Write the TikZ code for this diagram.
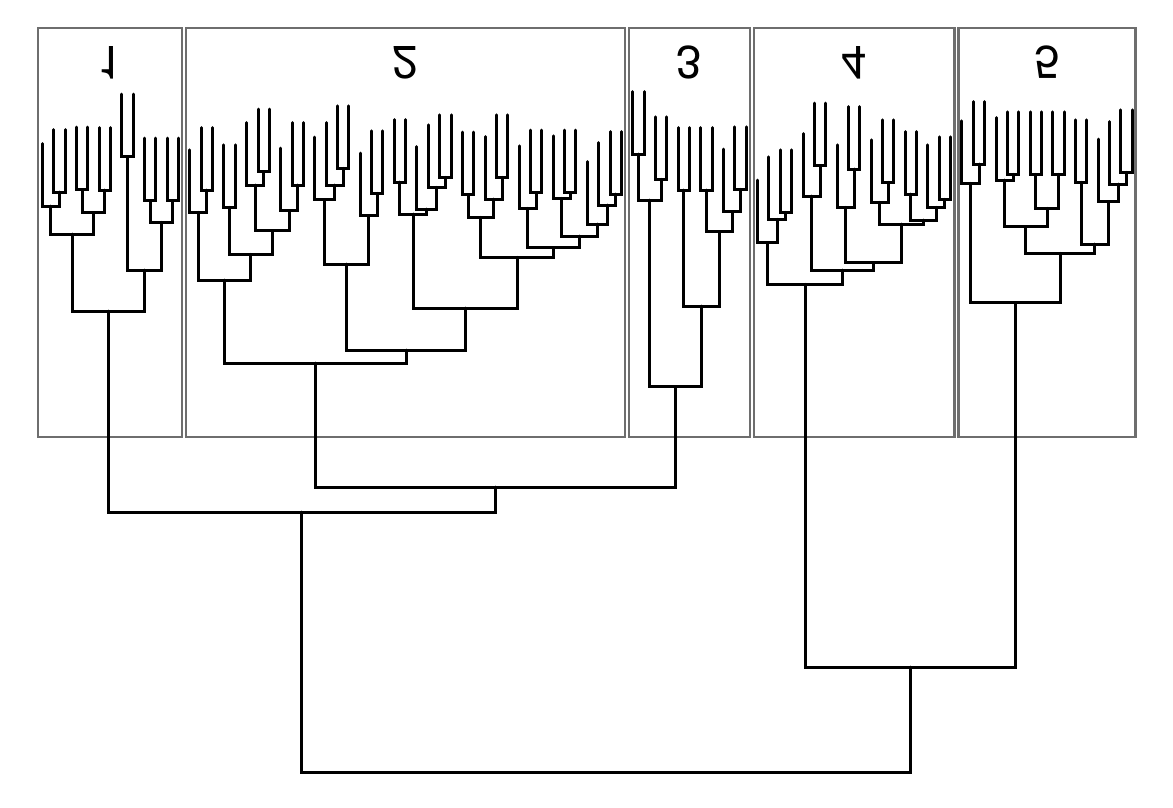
\documentclass[tikz,border=0pt]{standalone}
\usepackage{fontspec}
\setmainfont{TeX Gyre Heros}
\usetikzlibrary{calc}
\definecolor{boxgray}{RGB}{110,110,110}
\tikzset{
  link/.style={line width=3pt, line cap=round},
  clusterbox/.style={draw=boxgray, line width=2.7pt},
  clusterlabel/.style={yscale=-1, inner sep=0pt, font=\fontsize{46}{50}\selectfont}
}
% join two branches at a given height, name the new branch point
\newcommand\jn[4]{%
  \draw[link] let \p1=(#2), \p2=(#3) in (\p1) -- (\x1,-#4pt) -- (\x2,-#4pt) -- (\p2);
  \path let \p1=(#2), \p2=(#3) in ({(\x1+\x2)/2},-#4pt) coordinate (#1);
}
\begin{document}
\begin{tikzpicture}[x=1pt, y=-1pt]
\useasboundingbox (0,0) rectangle (1173,807);
% cluster boxes and labels
\draw[clusterbox] (38,28) rectangle (182,437);
\draw[clusterbox] (186,28) rectangle (625,437);
\draw[clusterbox] (629,28) rectangle (750,437);
\draw[clusterbox] (754,28) rectangle (954.5,437);
\draw[clusterbox] (958.5,28) rectangle (1135.5,437);
\node[clusterlabel] (t1) at (110,62.5) {1};
\node[clusterlabel] (t2) at (405.5,62.5) {2};
\node[clusterlabel] (t3) at (689.5,62.5) {3};
\node[clusterlabel] (t4) at (854,62.5) {4};
\node[clusterlabel] (t5) at (1047,62.5) {5};
% leaves, given by the height of the join above them
\foreach \h [count=\i] in {206,192,192,189.5,189.5,190,190,156.7,156.7,200.7,200.7,200.7,200.7,
  212.3,190,190,207.3,207.3,185,171.7,171.7,210.7,185,185,199.5,185,168.3,168.3,215.5,193.3,193.3,
  182,182,209,187.3,177.3,177.3,194.5,194.5,199,177.3,177.3,208.3,192.7,192.7,198.3,192.7,192.7,
  224,205,194,194,
  154,154,179.3,179.3,190,190,190,190,211.7,189.3,189.3,
  242.7,219.3,212.3,212.3,196,165.7,165.7,207.3,169,169,202.3,182.3,182.3,194,194,207.3,199.3,199.3,
  183.3,164,164,180,174.3,174.3,174.3,174.3,174.3,174.3,182.3,182.3,201.7,184,172.3,172.3}
  \coordinate (l\i) at ({42.3+11.354*(\i-1)},{\h-62.5});
% cluster 1
\jn{a1}{l2}{l3}{192}
\jn{a2}{l1}{a1}{206}
\jn{a3}{l4}{l5}{189.5}
\jn{a4}{l6}{l7}{190}
\jn{a5}{a3}{a4}{212.7}
\jn{a6}{a2}{a5}{234}
\jn{a7}{l8}{l9}{156.7}
\jn{a8}{l10}{l11}{200.7}
\jn{a9}{l12}{l13}{200.7}
\jn{a10}{a8}{a9}{222.3}
\jn{a11}{a7}{a10}{270}
\jn{c1}{a6}{a11}{311}
% cluster 2
\jn{b1}{l15}{l16}{190}
\jn{b2}{l14}{b1}{212.3}
\jn{b3}{l17}{l18}{207.3}
\jn{b4}{l20}{l21}{171.7}
\jn{b5}{l19}{b4}{185}
\jn{b6}{l23}{l24}{185}
\jn{b7}{l22}{b6}{210.7}
\jn{b8}{b5}{b7}{230.7}
\jn{b9}{b3}{b8}{254.3}
\jn{b10}{b2}{b9}{280}
\jn{b11}{l27}{l28}{168.3}
\jn{b12}{l26}{b11}{185}
\jn{b13}{l25}{b12}{199.5}
\jn{b14}{l30}{l31}{193.3}
\jn{b15}{l29}{b14}{215.5}
\jn{b16}{b13}{b15}{264}
\jn{b17}{l32}{l33}{182}
\jn{b18}{l36}{l37}{177.3}
\jn{b19}{l35}{b18}{187.3}
\jn{b20}{l34}{b19}{209}
\jn{b21}{b17}{b20}{214.2}
\jn{b22}{l38}{l39}{194.5}
\jn{b23}{l41}{l42}{177.3}
\jn{b24}{l40}{b23}{199}
\jn{b25}{b22}{b24}{217.3}
\jn{b26}{l44}{l45}{192.7}
\jn{b27}{l43}{b26}{208.3}
\jn{b28}{l47}{l48}{192.7}
\jn{b29}{l46}{b28}{198.3}
\jn{b30}{l51}{l52}{194}
\jn{b31}{l50}{b30}{205}
\jn{b32}{l49}{b31}{224}
\jn{b33}{b29}{b32}{236}
\jn{b34}{b27}{b33}{247.7}
\jn{b35}{b25}{b34}{257.3}
\jn{b36}{b21}{b35}{308}
\jn{b37}{b16}{b36}{350}
\jn{c2}{b10}{b37}{363}
% cluster 3
\jn{d1}{l53}{l54}{154}
\jn{d2}{l55}{l56}{179.3}
\jn{d3}{d1}{d2}{200}
\jn{d4}{l57}{l58}{190}
\jn{d5}{l59}{l60}{190}
\jn{d6}{l62}{l63}{189.3}
\jn{d7}{l61}{d6}{211.7}
\jn{d8}{d5}{d7}{231.7}
\jn{d9}{d4}{d8}{306}
\jn{c3}{d3}{d9}{386.7}
% cluster 4
\jn{e1}{l66}{l67}{212.3}
\jn{e2}{l65}{e1}{219.3}
\jn{e3}{l64}{e2}{242.7}
\jn{e4}{l69}{l70}{165.7}
\jn{e5}{l68}{e4}{196}
\jn{e6}{l72}{l73}{169}
\jn{e7}{l71}{e6}{207.3}
\jn{e8}{l75}{l76}{182.3}
\jn{e9}{l74}{e8}{202.3}
\jn{e10}{l77}{l78}{194}
\jn{e11}{l80}{l81}{199.3}
\jn{e12}{l79}{e11}{207.3}
\jn{e13}{e10}{e12}{220}
\jn{e14}{e9}{e13}{224}
\jn{e15}{e7}{e14}{262.7}
\jn{e16}{e5}{e15}{270}
\jn{c4}{e3}{e16}{284.3}
% cluster 5
\jn{f1}{l83}{l84}{164}
\jn{f2}{l82}{f1}{183.3}
\jn{f3}{l86}{l87}{174.3}
\jn{f4}{l85}{f3}{180}
\jn{f5}{l88}{l89}{174.3}
\jn{f6}{l90}{l91}{174.3}
\jn{f7}{f5}{f6}{208.3}
\jn{f8}{f4}{f7}{226.7}
\jn{f9}{l92}{l93}{182.3}
\jn{f10}{l96}{l97}{172.3}
\jn{f11}{l95}{f10}{184}
\jn{f12}{l94}{f11}{201.7}
\jn{f13}{f9}{f12}{244}
\jn{f14}{f8}{f13}{253.3}
\jn{c5}{f2}{f14}{302.7}
% joins between clusters
\jn{g1}{c2}{c3}{487}
\jn{g2}{c1}{g1}{512}
\jn{g3}{c4}{c5}{667}
\jn{root}{g2}{g3}{772}
\end{tikzpicture}
\end{document}
